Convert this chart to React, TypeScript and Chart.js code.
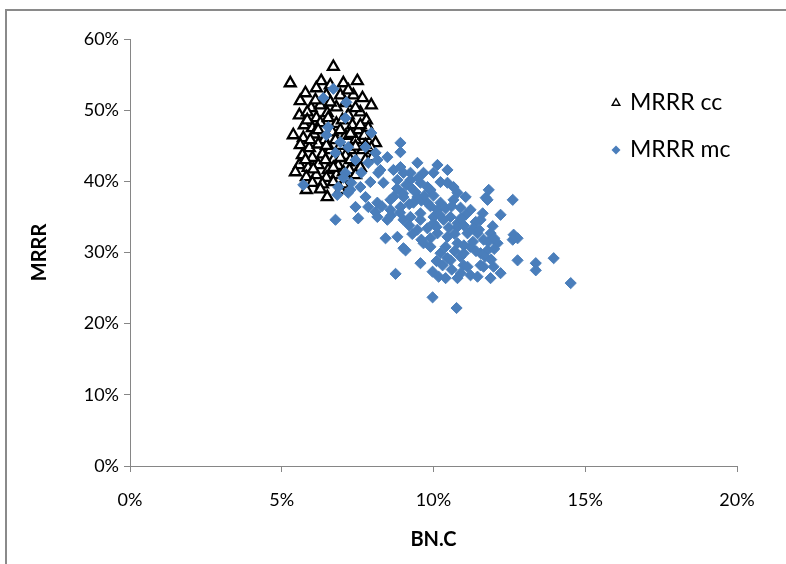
import React, { useEffect, useRef } from "react";
import { Chart, registerables } from "chart.js";

Chart.register(...registerables);

// ---- data (percent units) ----
const seriesNames = ["MRRR cc", "MRRR mc"];
const xTitle = "BN.C";
const yTitle = "MRRR";
const xTickValues = [0, 5, 10, 15, 20];
const yTickValues = [0, 10, 20, 30, 40, 50, 60];

const ccX = [
  6.70, 5.28, 6.30, 7.03, 7.49, 5.61, 7.95, 5.97, 6.27, 6.80, 7.36, 6.47, 6.93, 5.58, 5.84, 6.14, 6.50, 7.19, 7.59, 7.79,
  5.74, 6.01, 6.27, 6.80, 7.33, 7.52, 7.85, 5.38, 5.71, 6.07, 6.40, 6.67, 7.10, 7.43, 7.72, 8.09, 5.61, 5.91, 6.20, 6.60,
  6.93, 7.26, 7.66, 7.95, 5.68, 6.01, 6.34, 6.70, 7.10, 7.46, 7.76, 5.58, 5.87, 6.20, 6.53, 6.86, 7.23, 7.59, 5.45, 5.81,
  6.14, 6.47, 6.80, 7.13, 7.43, 6.01, 6.34, 6.70, 7.03, 6.50, 6.11, 6.60, 7.10, 5.84, 6.53, 7.00, 7.43, 6.20, 6.93, 7.26,
  5.94, 6.77, 6.47, 7.43, 5.78, 6.44, 6.93, 7.26, 6.04, 6.70, 7.03, 6.27, 6.93, 5.81, 7.76, 7.99, 7.59, 7.66, 5.78, 6.60,
  6.14, 7.19,
];
const ccY = [
  56.1, 53.8, 54.1, 53.8, 54.1, 51.3, 50.7, 50.3, 50.7, 50.4, 52.1, 52.1, 52.1, 49.3, 49.7, 48.9, 49.6, 49.3, 49.7, 48.6,
  47.9, 47.5, 48.2, 48.1, 47.9, 47.2, 47.5, 46.5, 46.1, 46.6, 45.8, 46.9, 46.4, 45.8, 46.4, 45.4, 45.1, 44.7, 45.2, 44.4,
  45.0, 44.4, 44.4, 44.7, 43.7, 43.3, 43.8, 43.0, 43.6, 42.7, 43.0, 42.3, 41.9, 42.3, 41.6, 42.2, 41.6, 41.9, 41.3, 40.6,
  40.9, 40.5, 40.9, 40.5, 40.9, 39.8, 39.6, 39.9, 39.6, 37.8, 51.4, 51.1, 51.0, 48.6, 48.9, 48.6, 50.3, 47.2, 47.2, 46.7,
  45.8, 45.8, 45.0, 44.9, 43.0, 43.0, 43.3, 43.0, 41.7, 41.9, 41.3, 38.9, 38.8, 38.8, 45.1, 43.4, 47.9, 51.7, 52.4, 53.5,
  53.1, 52.8,
];

const mcX = [
  6.70, 6.37, 7.13, 7.10, 6.53, 6.47, 7.95, 6.93, 6.77, 7.19, 7.76, 8.09, 7.43, 7.85, 7.10, 7.62, 8.18, 6.86, 7.29, 7.19,
  7.76, 7.43, 7.85, 8.09, 5.71, 6.77, 7.52, 8.91, 8.91, 8.48, 8.15, 7.03, 8.25, 8.68, 9.47, 10.13, 10.46, 9.24, 9.67, 8.81,
  8.35, 7.92, 7.59, 7.26, 6.83, 8.58, 9.24, 9.80, 10.23, 10.66, 8.91, 9.34, 9.80, 10.23, 10.66, 8.48, 9.01, 9.57, 10.00, 10.56,
  9.01, 10.46, 9.90, 9.24, 11.06, 10.89, 11.55, 9.47, 8.15, 8.15, 9.24, 10.33, 10.79, 11.78, 11.82, 11.72, 12.61, 12.21, 11.62, 11.95,
  12.64, 12.77, 12.61, 12.77, 13.37, 13.37, 13.96, 14.52, 12.21, 11.88, 11.65, 11.98, 11.78, 12.11, 11.65, 11.88, 8.42, 8.81, 9.01, 8.75,
  9.57, 9.97, 10.17, 10.40, 10.79, 9.97, 10.76, 9.67, 9.90, 10.46, 10.99, 11.22, 11.55, 9.08, 11.12, 11.45, 11.55, 11.22, 10.89, 10.56,
  10.23, 9.90, 9.47, 10.00, 10.79, 11.12, 11.45, 10.46, 10.79, 10.13, 8.58, 9.57, 10.13, 10.79, 9.57, 10.00, 8.91, 9.01, 11.22, 11.39,
  11.06, 9.10, 9.40, 9.60, 9.20, 9.90, 9.50, 9.00, 8.80, 9.70, 10.00, 10.40, 10.20, 10.60, 10.90, 10.50, 10.10, 10.70, 11.00, 11.30,
  11.30, 11.00, 11.40, 11.70, 11.90, 12.00, 11.80, 11.50, 12.00, 10.30, 10.60, 10.90, 10.10, 10.70, 10.40, 11.00, 8.60, 8.90, 8.30, 8.70,
  9.30, 9.60, 9.80, 9.20,
];
const mcY = [
  53.0, 51.7, 51.1, 48.9, 47.6, 46.5, 46.8, 45.5, 44.0, 44.8, 44.8, 44.0, 43.0, 42.6, 41.2, 41.2, 41.2, 39.2, 39.8, 38.4,
  37.8, 36.4, 36.4, 35.7, 39.5, 34.6, 34.8, 45.4, 44.1, 43.4, 43.0, 40.5, 41.6, 41.6, 42.6, 42.3, 41.6, 41.2, 41.2, 40.2,
  39.8, 39.9, 39.2, 38.8, 38.1, 37.4, 39.2, 39.2, 39.9, 39.2, 36.4, 37.0, 37.0, 37.0, 37.4, 34.6, 34.6, 34.6, 35.0, 35.0,
  41.2, 39.8, 38.8, 40.2, 37.8, 36.3, 34.6, 37.8, 37.0, 35.0, 35.0, 34.6, 34.1, 37.4, 38.8, 37.7, 37.4, 35.3, 35.5, 33.7,
  32.5, 32.0, 31.8, 28.9, 28.5, 27.5, 29.2, 25.7, 27.1, 26.4, 28.0, 28.0, 30.3, 31.3, 31.8, 32.7, 32.0, 32.2, 30.6, 27.0,
  28.5, 27.3, 26.6, 26.4, 26.4, 23.7, 22.2, 31.3, 32.0, 29.2, 28.2, 26.8, 28.2, 30.3, 28.0, 26.6, 29.9, 30.8, 29.4, 28.9,
  29.9, 30.8, 33.2, 34.1, 33.6, 32.7, 32.7, 32.2, 31.3, 32.7, 36.0, 35.5, 36.0, 38.4, 39.8, 41.2, 42.0, 37.8, 36.0, 34.3,
  35.3, 39.5, 38.5, 37.3, 36.8, 36.5, 40.5, 38.3, 39.0, 38.0, 38.0, 36.2, 35.3, 36.5, 34.8, 33.5, 33.6, 32.6, 33.8, 33.4,
  31.5, 31.0, 30.2, 29.4, 29.0, 30.5, 31.5, 33.2, 32.0, 28.2, 27.6, 27.1, 28.8, 30.2, 30.8, 29.9, 35.2, 35.6, 36.5, 37.9,
  32.6, 31.8, 33.4, 33.8,
];

// ---- styles ----
const FONT = "Lato, 'Open Sans', sans-serif";
const AXIS_COLOR = "#868686";
const BLUE = "#4a7ebb";

const sideLegend = {
  id: "sideLegend",
  afterDraw(chart: any) {
    const ctx = chart.ctx as CanvasRenderingContext2D;
    const rows = [103, 150];
    ctx.save();
    chart.data.datasets.forEach((ds: any, i: number) => {
      const cx = 616;
      const cy = rows[i];
      ctx.beginPath();
      if (ds.pointStyle === "triangle") {
        const r = 4.4;
        ctx.moveTo(cx, cy - r);
        ctx.lineTo(cx + r * 0.866, cy + r * 0.5);
        ctx.lineTo(cx - r * 0.866, cy + r * 0.5);
        ctx.closePath();
        ctx.fillStyle = ds.backgroundColor;
        ctx.fill();
        ctx.lineWidth = 1.4;
        ctx.strokeStyle = ds.borderColor;
        ctx.stroke();
      } else {
        const r = 4.5;
        ctx.moveTo(cx, cy - r);
        ctx.lineTo(cx + r, cy);
        ctx.lineTo(cx, cy + r);
        ctx.lineTo(cx - r, cy);
        ctx.closePath();
        ctx.fillStyle = ds.backgroundColor;
        ctx.fill();
      }
      ctx.fillStyle = "#000";
      ctx.font = `23px ${FONT}`;
      ctx.textBaseline = "middle";
      ctx.textAlign = "left";
      ctx.fillText(ds.label, 630, cy);
    });
    ctx.restore();
  },
};

export default function App() {
  const canvasRef = useRef<HTMLCanvasElement | null>(null);

  useEffect(() => {
    if (!canvasRef.current) return;
    const chart = new Chart(canvasRef.current, {
      type: "scatter",
      data: {
        datasets: [
          {
            label: seriesNames[0],
            data: ccX.map((x, i) => ({ x, y: ccY[i] })),
            pointStyle: "triangle",
            pointRadius: 6.3,
            pointBorderWidth: 2.3,
            borderColor: "#000",
            backgroundColor: "#fff",
            order: 2,
          },
          {
            label: seriesNames[1],
            data: mcX.map((x, i) => ({ x, y: mcY[i] })),
            pointStyle: "rectRot",
            pointRadius: 5.6,
            pointBorderWidth: 1,
            borderColor: BLUE,
            backgroundColor: BLUE,
            order: 1,
          },
        ],
      },
      options: {
        responsive: false,
        animation: false,
        events: [],
        layout: { padding: { left: 0, top: 39, right: 49, bottom: 0 } },
        plugins: {
          legend: { display: false },
          tooltip: { enabled: false },
        },
        scales: {
          x: {
            type: "linear",
            min: 0,
            max: 20,
            afterFit: (s: any) => {
              s.height = 98;
            },
            afterBuildTicks: (s: any) => {
              s.ticks = xTickValues.map((v) => ({ value: v }));
            },
            ticks: {
              callback: (v: any) => `${v}%`,
              color: "#000",
              font: { family: FONT, size: 18 },
              padding: 17,
            },
            grid: {
              drawOnChartArea: false,
              drawTicks: true,
              tickLength: 6,
              tickColor: AXIS_COLOR,
              tickWidth: 1,
            },
            border: { display: true, color: AXIS_COLOR, width: 1 },
            title: {
              display: true,
              text: xTitle,
              color: "#000",
              font: { family: FONT, size: 20, weight: "bold" },
              padding: { top: 0, bottom: 12 },
            },
          },
          y: {
            type: "linear",
            min: 0,
            max: 60,
            afterFit: (s: any) => {
              s.width = 130;
            },
            afterBuildTicks: (s: any) => {
              s.ticks = yTickValues.map((v) => ({ value: v }));
            },
            ticks: {
              callback: (v: any) => `${v}%`,
              color: "#000",
              font: { family: FONT, size: 18 },
              padding: 5,
            },
            grid: {
              drawOnChartArea: false,
              drawTicks: true,
              tickLength: 6,
              tickColor: AXIS_COLOR,
              tickWidth: 1,
            },
            border: { display: true, color: AXIS_COLOR, width: 1 },
            title: {
              display: true,
              text: yTitle,
              color: "#000",
              font: { family: FONT, size: 20, weight: "bold" },
              padding: { top: 28, bottom: 0 },
            },
          },
        },
      },
      plugins: [sideLegend],
    });
    return () => chart.destroy();
  }, []);

  return (
    <div
      style={{
        position: "fixed",
        left: 0,
        top: 0,
        width: 786,
        height: 564,
        background: "#fff",
        overflow: "hidden",
      }}
    >
      <div
        style={{
          position: "absolute",
          left: 5,
          top: 9,
          width: 781,
          height: 555,
          boxSizing: "border-box",
          borderTop: "2px solid #8a8a8a",
          borderLeft: "2px solid #8a8a8a",
          pointerEvents: "none",
        }}
      />
      <canvas
        ref={canvasRef}
        width={786}
        height={564}
        style={{ position: "absolute", left: 0, top: 0, display: "block" }}
      />
    </div>
  );
}
